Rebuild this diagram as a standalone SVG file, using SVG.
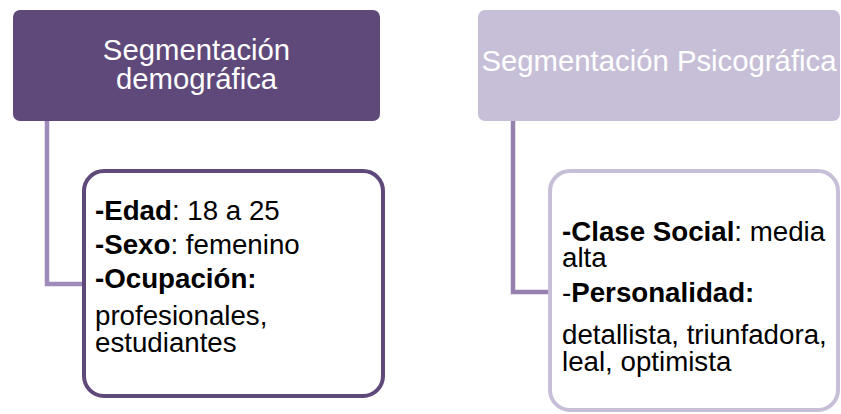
<svg xmlns="http://www.w3.org/2000/svg" width="841" height="414" viewBox="0 0 841 414">
<style>
.hdr{font-family:"Liberation Sans",Arial,sans-serif;font-size:29.3px;fill:#ffffff;text-anchor:middle}
.det{font-family:"Liberation Sans",Arial,sans-serif;font-size:27.7px;fill:#000000}
.b{font-weight:bold}
.conn{fill:none;stroke-width:4.5}
</style>
<rect width="841" height="414" fill="#ffffff"/>
<g id="connectors">
<path class="conn" d="M47,121 V284 H84" stroke="#9F8BBA"/>
<path class="conn" d="M513,121 V292 H550" stroke="#9580AE"/>
</g>
<g id="demografica-header">
<rect x="13" y="10" width="367" height="111" rx="7" fill="#5F497A"/>
<text class="hdr" x="196.5" y="60">Segmentación</text>
<text class="hdr" x="196.5" y="89">demográfica</text>
</g>
<g id="demografica-detail">
<rect x="84" y="171" width="299" height="225" rx="20" fill="#ffffff" stroke="#5F497A" stroke-width="4"/>
<text class="det" x="95" y="220"><tspan class="b">-Edad</tspan>: 18 a 25</text>
<text class="det" x="95" y="254"><tspan class="b">-Sexo</tspan>: femenino</text>
<text class="det b" x="95" y="288">-Ocupación:</text>
<text class="det" x="95" y="325">profesionales,</text>
<text class="det" x="95" y="352">estudiantes</text>
</g>
<g id="psicografica-header">
<rect x="478" y="10" width="362" height="111" rx="7" fill="#C7BFD7"/>
<text class="hdr" x="659" y="71">Segmentación Psicográfica</text>
</g>
<g id="psicografica-detail">
<rect x="550" y="171" width="288" height="239" rx="20" fill="#ffffff" stroke="#C7BFD7" stroke-width="4"/>
<text class="det" x="562" y="241"><tspan class="b">-Clase Social</tspan>: media</text>
<text class="det" x="562" y="267">alta</text>
<text class="det" x="562" y="302">-<tspan class="b">Personalidad:</tspan></text>
<text class="det" x="562" y="344">detallista, triunfadora,</text>
<text class="det" x="562" y="371">leal, optimista</text>
</g>
</svg>
